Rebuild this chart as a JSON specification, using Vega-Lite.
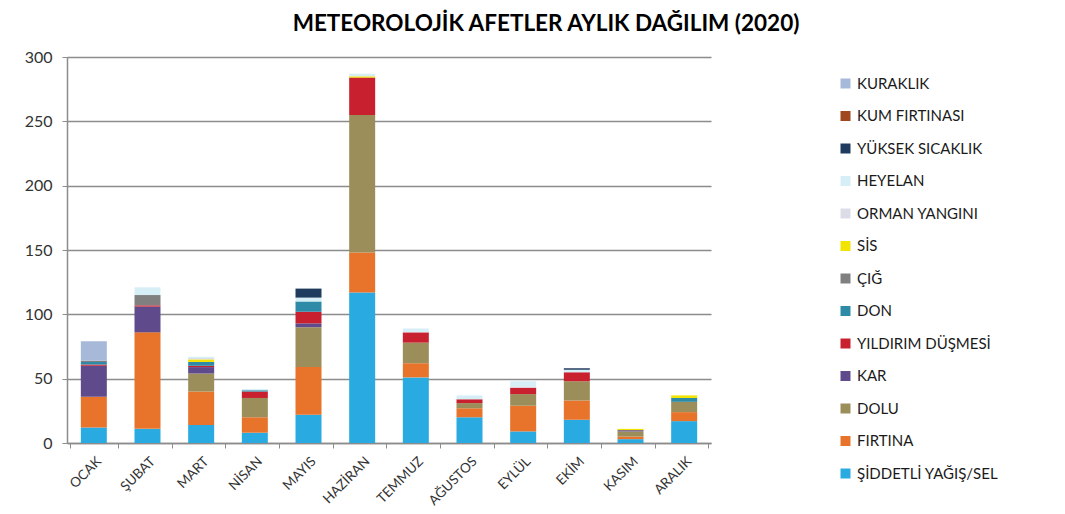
{
  "$schema": "https://vega.github.io/schema/vega-lite/v6.json",
  "autosize": {"type": "none"},
  "width": 644,
  "height": 386,
  "padding": {"left": 67, "top": 57, "right": 354, "bottom": 71},
  "background": "white",
  "title": {
    "text": "METEOROLOJİK AFETLER AYLIK DAĞILIM (2020)",
    "font": "Lato",
    "fontSize": 22.5,
    "fontWeight": "bold",
    "color": "#000000",
    "anchor": "middle",
    "dx": 157,
    "offset": 14
  },
  "data": {
    "values": [
      {"ay": "OCAK", "ŞİDDETLİ YAĞIŞ/SEL": 12, "FIRTINA": 24, "DOLU": 0, "KAR": 24, "YILDIRIM DÜŞMESİ": 1, "DON": 2, "ÇIĞ": 1, "SİS": 0, "ORMAN YANGINI": 0, "HEYELAN": 0, "YÜKSEK SICAKLIK": 0, "KUM FIRTINASI": 0, "KURAKLIK": 15},
      {"ay": "ŞUBAT", "ŞİDDETLİ YAĞIŞ/SEL": 11, "FIRTINA": 75, "DOLU": 0, "KAR": 20, "YILDIRIM DÜŞMESİ": 1, "DON": 0, "ÇIĞ": 8, "SİS": 0, "ORMAN YANGINI": 0, "HEYELAN": 6, "YÜKSEK SICAKLIK": 0, "KUM FIRTINASI": 0, "KURAKLIK": 0},
      {"ay": "MART", "ŞİDDETLİ YAĞIŞ/SEL": 14, "FIRTINA": 26, "DOLU": 14, "KAR": 5, "YILDIRIM DÜŞMESİ": 1, "DON": 3, "ÇIĞ": 0, "SİS": 2, "ORMAN YANGINI": 1, "HEYELAN": 1, "YÜKSEK SICAKLIK": 0, "KUM FIRTINASI": 0, "KURAKLIK": 0},
      {"ay": "NİSAN", "ŞİDDETLİ YAĞIŞ/SEL": 8, "FIRTINA": 12, "DOLU": 15, "KAR": 0, "YILDIRIM DÜŞMESİ": 5, "DON": 1, "ÇIĞ": 0, "SİS": 0, "ORMAN YANGINI": 0, "HEYELAN": 1, "YÜKSEK SICAKLIK": 0, "KUM FIRTINASI": 0, "KURAKLIK": 0},
      {"ay": "MAYIS", "ŞİDDETLİ YAĞIŞ/SEL": 22, "FIRTINA": 37, "DOLU": 31, "KAR": 3, "YILDIRIM DÜŞMESİ": 9, "DON": 8, "ÇIĞ": 0, "SİS": 0, "ORMAN YANGINI": 0, "HEYELAN": 3, "YÜKSEK SICAKLIK": 7, "KUM FIRTINASI": 0, "KURAKLIK": 0},
      {"ay": "HAZİRAN", "ŞİDDETLİ YAĞIŞ/SEL": 117, "FIRTINA": 31, "DOLU": 107, "KAR": 0, "YILDIRIM DÜŞMESİ": 29, "DON": 0, "ÇIĞ": 0, "SİS": 1, "ORMAN YANGINI": 0, "HEYELAN": 2, "YÜKSEK SICAKLIK": 0, "KUM FIRTINASI": 0, "KURAKLIK": 0},
      {"ay": "TEMMUZ", "ŞİDDETLİ YAĞIŞ/SEL": 51, "FIRTINA": 11, "DOLU": 16, "KAR": 0, "YILDIRIM DÜŞMESİ": 8, "DON": 0, "ÇIĞ": 0, "SİS": 0, "ORMAN YANGINI": 0, "HEYELAN": 3, "YÜKSEK SICAKLIK": 0, "KUM FIRTINASI": 0, "KURAKLIK": 0},
      {"ay": "AĞUSTOS", "ŞİDDETLİ YAĞIŞ/SEL": 20, "FIRTINA": 7, "DOLU": 4, "KAR": 0, "YILDIRIM DÜŞMESİ": 3, "DON": 0, "ÇIĞ": 0, "SİS": 0, "ORMAN YANGINI": 0, "HEYELAN": 3, "YÜKSEK SICAKLIK": 0, "KUM FIRTINASI": 0, "KURAKLIK": 0},
      {"ay": "EYLÜL", "ŞİDDETLİ YAĞIŞ/SEL": 9, "FIRTINA": 20, "DOLU": 9, "KAR": 0, "YILDIRIM DÜŞMESİ": 5, "DON": 0, "ÇIĞ": 0, "SİS": 0, "ORMAN YANGINI": 1, "HEYELAN": 4, "YÜKSEK SICAKLIK": 0, "KUM FIRTINASI": 0, "KURAKLIK": 0},
      {"ay": "EKİM", "ŞİDDETLİ YAĞIŞ/SEL": 18, "FIRTINA": 15, "DOLU": 15, "KAR": 0, "YILDIRIM DÜŞMESİ": 7, "DON": 0, "ÇIĞ": 0, "SİS": 0, "ORMAN YANGINI": 0, "HEYELAN": 2, "YÜKSEK SICAKLIK": 1, "KUM FIRTINASI": 0, "KURAKLIK": 0},
      {"ay": "KASIM", "ŞİDDETLİ YAĞIŞ/SEL": 3, "FIRTINA": 2, "DOLU": 4, "KAR": 1, "YILDIRIM DÜŞMESİ": 0, "DON": 0, "ÇIĞ": 0, "SİS": 1, "ORMAN YANGINI": 0, "HEYELAN": 0, "YÜKSEK SICAKLIK": 0, "KUM FIRTINASI": 0, "KURAKLIK": 0},
      {"ay": "ARALIK", "ŞİDDETLİ YAĞIŞ/SEL": 17, "FIRTINA": 7, "DOLU": 8, "KAR": 0, "YILDIRIM DÜŞMESİ": 0, "DON": 3, "ÇIĞ": 0, "SİS": 2, "ORMAN YANGINI": 0, "HEYELAN": 0, "YÜKSEK SICAKLIK": 0, "KUM FIRTINASI": 0, "KURAKLIK": 0}
    ]
  },
  "transform": [
    {"fold": ["ŞİDDETLİ YAĞIŞ/SEL", "FIRTINA", "DOLU", "KAR", "YILDIRIM DÜŞMESİ", "DON", "ÇIĞ", "SİS", "ORMAN YANGINI", "HEYELAN", "YÜKSEK SICAKLIK", "KUM FIRTINASI", "KURAKLIK"], "as": ["tur", "sayi"]},
    {"calculate": "indexof(['ŞİDDETLİ YAĞIŞ/SEL','FIRTINA','DOLU','KAR','YILDIRIM DÜŞMESİ','DON','ÇIĞ','SİS','ORMAN YANGINI','HEYELAN','YÜKSEK SICAKLIK','KUM FIRTINASI','KURAKLIK'], datum.tur)", "as": "sira"}
  ],
  "mark": {"type": "bar", "size": 26},
  "encoding": {
    "x": {
      "field": "ay",
      "type": "nominal",
      "sort": null,
      "title": null,
      "axis": {
        "labelAngle": -45,
        "labelFont": "Lato",
        "labelFontSize": 13.5,
        "labelColor": "#333333",
        "labelPadding": 6,
        "tickBand": "extent",
        "tickColor": "#8c8c8c",
        "tickSize": 5,
        "domainColor": "#8c8c8c",
        "domainWidth": 1.5
      }
    },
    "y": {
      "field": "sayi",
      "type": "quantitative",
      "stack": "zero",
      "title": null,
      "scale": {"domain": [0, 300], "nice": false},
      "axis": {
        "values": [0, 50, 100, 150, 200, 250, 300],
        "labelFont": "Lato",
        "labelFontSize": 16,
        "labelColor": "#333333",
        "labelPadding": 10,
        "tickSize": 5,
        "tickColor": "#8c8c8c",
        "domainColor": "#8c8c8c",
        "domainWidth": 1.5,
        "gridColor": "#8c8c8c",
        "gridWidth": 1.5
      }
    },
    "color": {
      "field": "tur",
      "type": "nominal",
      "scale": {
        "domain": ["KURAKLIK", "KUM FIRTINASI", "YÜKSEK SICAKLIK", "HEYELAN", "ORMAN YANGINI", "SİS", "ÇIĞ", "DON", "YILDIRIM DÜŞMESİ", "KAR", "DOLU", "FIRTINA", "ŞİDDETLİ YAĞIŞ/SEL"],
        "range": ["#a7b9d9", "#a0471f", "#1f3b5e", "#d6eef6", "#dcdce8", "#f2e400", "#808080", "#2e8ba8", "#c9202f", "#5f4b8b", "#9c8e5a", "#e8732a", "#29abe2"]
      },
      "legend": {
        "title": null,
        "orient": "none",
        "legendX": 771,
        "legendY": 19,
        "symbolType": "square",
        "symbolSize": 100,
        "symbolStrokeWidth": 0,
        "labelFont": "Lato",
        "labelFontSize": 15,
        "labelColor": "#1a1a1a",
        "labelOffset": 4,
        "rowPadding": 16.5
      }
    },
    "order": {"field": "sira", "type": "quantitative", "sort": "ascending"}
  },
  "config": {
    "view": {"stroke": null}
  }
}
